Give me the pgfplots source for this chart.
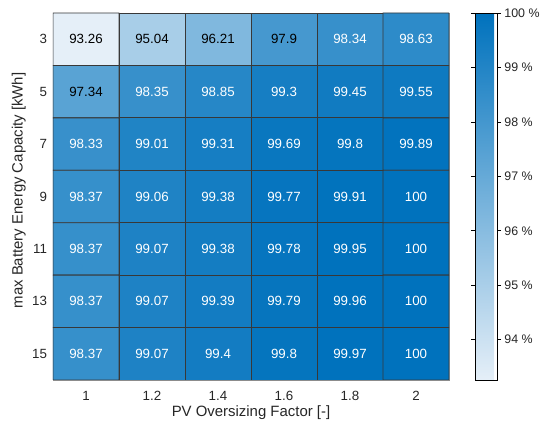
\documentclass[border=0pt]{standalone}
\usepackage{fontspec}
\setmainfont{Liberation Sans}
\usepackage{pgfplots}
\pgfplotsset{compat=1.18}

\pgfplotstableread{
x y c
0 0 93.26
1 0 95.04
2 0 96.21
3 0 97.9
4 0 98.34
5 0 98.63
0 1 97.34
1 1 98.35
2 1 98.85
3 1 99.3
4 1 99.45
5 1 99.55
0 2 98.33
1 2 99.01
2 2 99.31
3 2 99.69
4 2 99.8
5 2 99.89
0 3 98.37
1 3 99.06
2 3 99.38
3 3 99.77
4 3 99.91
5 3 100
0 4 98.37
1 4 99.07
2 4 99.38
3 4 99.78
4 4 99.95
5 4 100
0 5 98.37
1 5 99.07
2 5 99.39
3 5 99.79
4 5 99.96
5 5 100
0 6 98.37
1 6 99.07
2 6 99.4
3 6 99.8
4 6 99.97
5 6 100
}\datatable

\pgfplotstableread{
x y lab
0 0 93.26
1 0 95.04
2 0 96.21
3 0 97.9
0 1 97.34
}\blacklabels

\pgfplotstableread{
x y lab
4 0 98.34
5 0 98.63
1 1 98.35
2 1 98.85
3 1 99.3
4 1 99.45
5 1 99.55
0 2 98.33
1 2 99.01
2 2 99.31
3 2 99.69
4 2 99.8
5 2 99.89
0 3 98.37
1 3 99.06
2 3 99.38
3 3 99.77
4 3 99.91
5 3 100
0 4 98.37
1 4 99.07
2 4 99.38
3 4 99.78
4 4 99.95
5 4 100
0 5 98.37
1 5 99.07
2 5 99.39
3 5 99.79
4 5 99.96
5 5 100
0 6 98.37
1 6 99.07
2 6 99.4
3 6 99.8
4 6 99.97
5 6 100
}\whitelabels

\begin{document}
\begin{tikzpicture}
\begin{axis}[
  name=main,
  scale only axis,
  width=297pt, height=275.25pt,
  xmin=-0.5, xmax=5.5, ymin=-0.5, ymax=6.5,
  y dir=reverse,
  enlargelimits=false,
  xtick={0,1,2,3,4,5},
  xticklabels={1,1.2,1.4,1.6,1.8,2},
  ytick={0,1,2,3,4,5,6},
  yticklabels={3,5,7,9,11,13,15},
  major tick length=0pt,
  xticklabel style={yshift=-5pt},
  yticklabel style={xshift=-1pt},
  tick label style={font=\fontsize{10}{12}\selectfont, text=black!85},
  label style={font=\fontsize{11.2}{13}\selectfont, text=black!85},
  xlabel={PV Oversizing Factor [-]},
  ylabel={max Battery Energy Capacity [kWh]},
  xlabel style={yshift=3pt},
  ylabel style={yshift=-2pt, xshift=4.5pt},
  axis line style={black!45, line width=0.6pt},
  colormap={mblues}{rgb255=(229,239,248) rgb255=(0,114,189)},
  point meta min=93.26, point meta max=100,
  colorbar,
  colorbar style={
    at={(parent axis.north east)}, anchor=north west, xshift=11pt,
    width=16.5pt,
    ytick={94,95,96,97,98,99,100},
    yticklabels={94 \%,95 \%,96 \%,97 \%,98 \%,99 \%,100 \%},
    yticklabel pos=right,
    tick align=outside,
    major tick length=3pt,
    ytick style={black, line width=0.5pt},
    tick label style={font=\fontsize{9.3}{11}\selectfont, text=black!85},
    yticklabel style={xshift=-1pt},
    axis line style={black, line width=0.6pt},
  },
]
\addplot[matrix plot*, mesh/cols=6, point meta=explicit, draw=black!78, line width=0.6pt]
  table[x=x, y=y, meta=c] {\datatable};
\addplot[only marks, mark=none, point meta=explicit symbolic,
  nodes near coords, nodes near coords align=center,
  nodes near coords style={font=\fontsize{10}{12}\selectfont, text=black, anchor=center}]
  table[x=x, y=y, meta=lab] {\blacklabels};
\addplot[only marks, mark=none, point meta=explicit symbolic,
  nodes near coords, nodes near coords align=center,
  nodes near coords style={font=\fontsize{10}{12}\selectfont, text=white, anchor=center}]
  table[x=x, y=y, meta=lab] {\whitelabels};
\end{axis}
\pgfresetboundingbox
\path ([xshift=-39.75pt,yshift=-33pt]main.south west) rectangle ([xshift=69pt,yshift=9.75pt]main.north east);
\end{tikzpicture}
\end{document}
